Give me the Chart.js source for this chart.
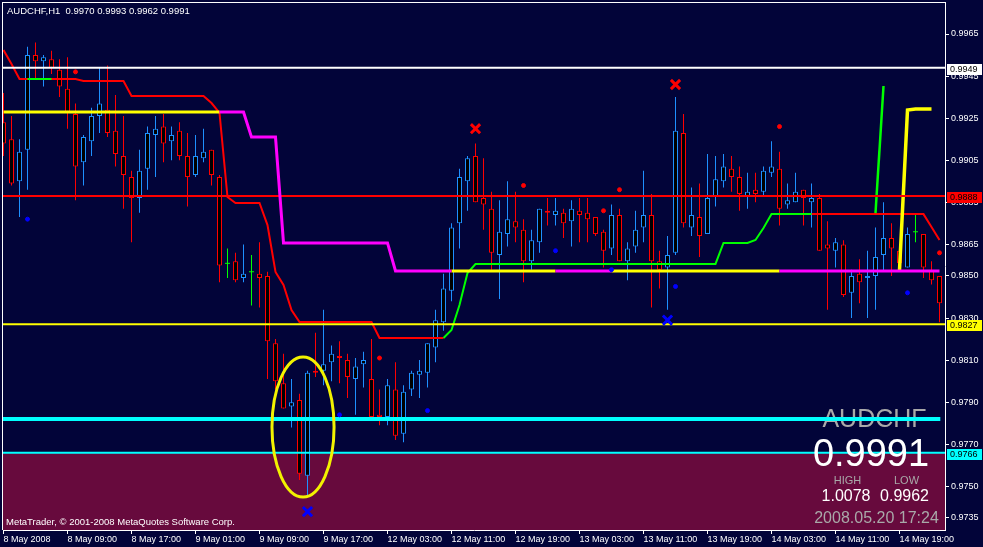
<!DOCTYPE html>
<html>
<head>
<meta charset="utf-8">
<script src="https://cdn.jsdelivr.net/npm/chart.js@4.4.1/dist/chart.umd.min.js"></script>
<style>
html,body{margin:0;padding:0;background:#020439;overflow:hidden;}
#box{width:983px;height:547px;}
canvas{display:block;}
</style>
</head>
<body>
<div id="box"><canvas id="chart" width="983" height="547"></canvas></div>
<script>
// ---------------- DATA ----------------
const xTickLabels = ['8 May 2008','8 May 09:00','8 May 17:00','9 May 01:00','9 May 09:00','9 May 17:00','12 May 03:00','12 May 11:00','12 May 19:00','13 May 03:00','13 May 11:00','13 May 19:00','14 May 03:00','14 May 11:00','14 May 19:00'];
const priceTicks = [0.9965,0.9945,0.9925,0.9905,0.9885,0.9865,0.9850,0.9830,0.9810,0.9790,0.9770,0.9750,0.9735];

const opens = [0.9923,0.9915,0.9895,0.9910,0.9955,0.9952,0.9953,0.9948,0.9939,0.9927,
0.9904,0.9914,0.9926,0.9929,0.9919,0.9907,0.9897,0.9887,0.9901,0.9917,
0.9921,0.9914,0.9919,0.9907,0.9898,0.9906,0.9910,0.9897,0.9856,0.9857,
0.9849,0.9852,0.9851,0.9850,0.9818,0.9799,0.9788,0.9791,0.9755,0.9805,
0.9805,0.9809,0.9812,0.9810,0.9801,0.9808,0.9801,0.9784,0.9783,0.9796,
0.9775,0.9796,0.9803,0.9804,0.9816,0.9828,0.9843,0.9875,0.9895,0.9907,
0.9887,0.9882,0.9860,0.9870,0.9876,0.9872,0.9857,0.9866,0.9881,0.9879,
0.9880,0.9876,0.9881,0.9880,0.9878,0.9871,0.9863,0.9879,0.9857,0.9864,
0.9873,0.9879,0.9857,0.9854,0.9861,0.9918,0.9873,0.9878,0.9870,0.9888,
0.9895,0.9901,0.9897,0.9888,0.9891,0.9890,0.9899,0.9901,0.9884,0.9885,
0.9891,0.9885,0.9887,0.9865,0.9862,0.9865,0.9842,0.9851,0.9849,0.9850,
0.9860,0.9868,0.9862,0.9854,0.9871,0.9870,0.9853,0.9850];

const highs = [0.9937,0.9926,0.9915,0.9959,0.9961,0.9955,0.9957,0.9953,0.9954,0.9932,
0.9917,0.9930,0.9949,0.9950,0.9936,0.9926,0.9900,0.9910,0.9921,0.9926,
0.9927,0.9921,0.9923,0.9918,0.9917,0.9920,0.9910,0.9898,0.9863,0.9861,
0.9865,0.9860,0.9866,0.9852,0.9820,0.9813,0.9801,0.9794,0.9805,0.9823,
0.9834,0.9817,0.9819,0.9813,0.9811,0.9814,0.9820,0.9796,0.9801,0.9809,
0.9798,0.9805,0.9810,0.9818,0.9834,0.9851,0.9875,0.9901,0.9907,0.9913,
0.9906,0.9890,0.9886,0.9895,0.9890,0.9877,0.9872,0.9882,0.9887,0.9887,
0.9882,0.9886,0.9887,0.9887,0.9878,0.9872,0.9884,0.9882,0.9866,0.9881,
0.9900,0.9889,0.9862,0.9869,0.9935,0.9927,0.9892,0.9894,0.9908,0.9907,
0.9908,0.9907,0.9902,0.9899,0.9899,0.9902,0.9914,0.9909,0.9894,0.9899,
0.9891,0.9894,0.9889,0.9876,0.9868,0.9867,0.9853,0.9858,0.9862,0.9873,
0.9885,0.9875,0.9864,0.9873,0.9879,0.9870,0.9857,0.9850];

const lows = [0.9907,0.9893,0.9878,0.9891,0.9944,0.9940,0.9946,0.9935,0.9920,0.9886,
0.9893,0.9907,0.9918,0.9916,0.9902,0.9882,0.9866,0.9880,0.9891,0.9897,
0.9904,0.9905,0.9905,0.9883,0.9897,0.9904,0.9893,0.9847,0.9849,0.9847,
0.9847,0.9836,0.9835,0.9801,0.9796,0.9787,0.9778,0.9753,0.9745,0.9802,
0.9798,0.9800,0.9799,0.9792,0.9784,0.9797,0.9783,0.9779,0.9779,0.9772,
0.9771,0.9793,0.9792,0.9797,0.9809,0.9824,0.9838,0.9863,0.9881,0.9885,
0.9872,0.9853,0.9839,0.9864,0.9866,0.9847,0.9853,0.9861,0.9874,0.9874,
0.9868,0.9864,0.9866,0.9866,0.9869,0.9854,0.9860,0.9857,0.9848,0.9861,
0.9866,0.9835,0.9844,0.9834,0.9860,0.9873,0.9869,0.9859,0.9870,0.9883,
0.9892,0.9890,0.9881,0.9882,0.9885,0.9888,0.9897,0.9874,0.9882,0.9885,
0.9874,0.9873,0.9862,0.9834,0.9854,0.9840,0.9830,0.9837,0.9830,0.9834,
0.9852,0.9850,0.9853,0.9854,0.9866,0.9849,0.9846,0.9828];

const closes = [0.9913,0.9894,0.9909,0.9955,0.9952,0.9954,0.9949,0.9940,0.9928,0.9902,
0.9916,0.9926,0.9932,0.9918,0.9908,0.9898,0.9887,0.9900,0.9918,0.9920,
0.9913,0.9917,0.9907,0.9897,0.9907,0.9909,0.9898,0.9855,0.9856,0.9848,
0.9851,0.9852,0.9849,0.9819,0.9800,0.9787,0.9790,0.9756,0.9804,0.9804,
0.9808,0.9813,0.9811,0.9802,0.9807,0.9810,0.9783,0.9783,0.9798,0.9774,
0.9795,0.9804,0.9805,0.9818,0.9829,0.9844,0.9873,0.9897,0.9906,0.9885,
0.9884,0.9861,0.9871,0.9877,0.9873,0.9857,0.9867,0.9882,0.9880,0.9881,
0.9875,0.9882,0.9879,0.9877,0.9870,0.9862,0.9879,0.9857,0.9863,0.9872,
0.9879,0.9857,0.9853,0.9860,0.9919,0.9875,0.9879,0.9869,0.9887,0.9896,
0.9902,0.9897,0.9889,0.9890,0.9889,0.9900,0.9902,0.9882,0.9886,0.9890,
0.9887,0.9887,0.9862,0.9863,0.9866,0.9841,0.9850,0.9847,0.9850,0.9859,
0.9868,0.9863,0.9856,0.9870,0.9871,0.9854,0.9848,0.9837];

// trailing-stop indicator (vertices: bar index -> value)
const trailBars = [0,1,2,3,6,9,10,15,16,25,26,27,28,29,32,33,34,35,36,37,46,47,55,56,57,58,59,89,90,93,94,95,96,101,115,116,117];
const trailVals = [0.99574,0.99507,0.99436,0.99436,0.99436,0.99436,0.99427,0.99427,0.99355,0.99355,0.99322,0.99275,0.98875,0.98847,0.98847,0.98742,0.98519,0.98457,0.98338,0.98281,0.98281,0.98205,0.98205,0.98243,0.98362,0.98514,0.98557,0.98557,0.98657,0.98657,0.98671,0.98728,0.98794,0.98794,0.98794,0.98733,0.98671];
const trailUpRanges = [[3,6],[55,101]];
const trailDownRanges = [[0,55],[101,117]];

// base line indicator (vertices)
const baseBars = [0,27,30,31,34,35,48,49,56,69,76,97,117];
const baseVals = [0.99279,0.99279,0.99279,0.99160,0.99160,0.98657,0.98657,0.98524,0.98524,0.98524,0.98524,0.98524,0.98524];
const baseYellowRanges = [[0,27],[56,69],[76,97]];
const baseMagentaRanges = [[27,56],[69,76],[97,117]];

// breakout lines on the right
const yellowRiseBars = [112,113,114,115,116];
const yellowRiseVals = [0.98528,0.99289,0.99294,0.99294,0.99294];
const greenRiseBars = [109,110];
const greenRiseVals = [0.98799,0.99403];

// signal markers
const redDotBars = [9,47,65,75,77,97,117];
const redDotVals = [0.9947,0.9811,0.9893,0.9881,0.9891,0.9921,0.9861];
const blueDotBars = [3,42,53,69,76,84,113];
const blueDotVals = [0.9877,0.9784,0.9786,0.9862,0.9853,0.9845,0.9842];
const redXBars = [59,84];
const redXVals = [0.9920,0.9941];
const blueXBars = [38,83];
const blueXVals = [0.9738,0.9829];

// horizontal levels
const levelValues = [0.9949,0.9888,0.9827,0.9782,0.9766];
const levelLabelShown = [true,true,true,false,true];

// highlight ellipse (bar / price units)
const ellipseCenterBar = 37.44, ellipseCenterPrice = 0.97782, ellipseBarRadius = 3.88, ellipsePriceRadius = 0.00333;

const titleText = 'AUDCHF,H1  0.9970 0.9993 0.9962 0.9991';
const copyrightText = 'MetaTrader, \u00a9 2001-2008 MetaQuotes Software Corp.';
const infoSymbol = 'AUDCHF', infoBid = '0.9991', infoHigh = '1.0078', infoLow = '0.9962', infoTime = '2008.05.20 17:24';

// ---------------- STYLE ----------------
const NAVY = '#020439', MAROON = '#670a3d';
const UP = '#1e90ff', DOWN = '#ff0000', DOJI = '#00ff00';
const GRAY = '#a9a9a9';
const levelColors = ['#ffffff','#ff0000','#ffff00','#00ffff','#00ffff'];
const levelWidths = [2,2,2,4,2];
const levelEnds = [118,118,118,117.1,118];
const FONT = '"Liberation Sans", Arial, sans-serif';

Chart.defaults.font.family = FONT;
Chart.defaults.font.size = 9;
Chart.defaults.color = '#ffffff';

const bars = opens.map((_, i) => i);
const colorFor = i => closes[i] > opens[i] ? UP : (closes[i] < opens[i] ? DOWN : DOJI);
const pts = (bx, vals) => bx.map((x, k) => ({x, y: vals[k]}));
function segments(bx, vals, ranges) {
  const out = [];
  ranges.forEach(([a, b]) => {
    bx.forEach((x, k) => { if (x >= a && x <= b) out.push({x, y: vals[k]}); });
    out.push({x: b + 0.5, y: null});
  });
  return out;
}
function lineDs(data, color, width, order) {
  return {type: 'line', data, borderColor: color, borderWidth: width, pointRadius: 0, pointHoverRadius: 0,
    fill: false, tension: 0, spanGaps: false, order, clip: 0, borderJoinStyle: 'miter'};
}
function markerDs(bx, vals, color, style, radius, bw, order) {
  return {type: 'line', data: pts(bx, vals), showLine: false, pointStyle: style, pointRadius: radius,
    pointHoverRadius: radius, pointBackgroundColor: color, pointBorderColor: color, pointBorderWidth: bw, order, clip: 0};
}

const datasets = [];
datasets.push({type: 'line', data: [{x: -1, y: levelValues[4]}, {x: 118, y: levelValues[4]}], fill: 'start',
  backgroundColor: MAROON, borderColor: 'rgba(0,0,0,0)', borderWidth: 1, pointRadius: 0, order: 40});
datasets.push({type: 'bar', data: bars.map(i => ({x: i, y: [lows[i], highs[i]]})), grouped: false,
  maxBarThickness: 1, barPercentage: 1, categoryPercentage: 1, inflateAmount: 0, borderWidth: 0,
  backgroundColor: ctx => colorFor(ctx.raw ? ctx.raw.x : 0), order: 31});
datasets.push({type: 'bar', data: bars.filter(i => opens[i] !== closes[i]).map(i => ({x: i, y: [opens[i], closes[i]]})),
  grouped: false, maxBarThickness: 5, barPercentage: 1, categoryPercentage: 1, inflateAmount: 0,
  borderWidth: 1, borderSkipped: false, backgroundColor: '#000000',
  borderColor: ctx => colorFor(ctx.raw ? ctx.raw.x : 0), order: 30});
datasets.push(markerDs(bars.filter(i => opens[i] === closes[i]), bars.filter(i => opens[i] === closes[i]).map(i => closes[i]), DOJI, 'line', 2.5, 1, 29));
datasets.push(lineDs(segments(trailBars, trailVals, trailDownRanges), '#ff0000', 2, 22));
datasets.push(lineDs(segments(trailBars, trailVals, trailUpRanges), '#00ff00', 2, 21));
datasets.push(lineDs(pts(greenRiseBars, greenRiseVals), '#00ff00', 2.5, 18));
datasets.push(lineDs(pts(yellowRiseBars, yellowRiseVals), '#ffff00', 3.5, 17));
levelValues.forEach((v, k) => datasets.push(lineDs([{x: -1, y: v}, {x: levelEnds[k], y: v}], levelColors[k], levelWidths[k], 12 - k)));
datasets.push(lineDs(segments(baseBars, baseVals, baseYellowRanges), '#ffff00', 3, 5));
datasets.push(lineDs(segments(baseBars, baseVals, baseMagentaRanges), '#ff00ff', 3, 4));
datasets.push(markerDs(redDotBars, redDotVals, DOWN, 'circle', 2, 1, 2));
datasets.push(markerDs(blueDotBars, blueDotVals, '#0000ff', 'circle', 2, 1, 2));
datasets.push(markerDs(redXBars, redXVals, DOWN, 'crossRot', 6.5, 3, 1));
datasets.push(markerDs(blueXBars, blueXVals, '#0000ff', 'crossRot', 6.5, 3, 1));

const mtPlugin = {
  id: 'mt',
  beforeDraw(chart) {
    const c = chart.ctx; c.save(); c.fillStyle = NAVY; c.fillRect(0, 0, chart.width, chart.height); c.restore();
  },
  beforeDatasetsDraw(chart) {
    const c = chart.ctx; c.save();
    c.textAlign = 'center'; c.textBaseline = 'alphabetic';
    c.fillStyle = GRAY; c.font = '25px ' + FONT; c.fillText(infoSymbol, 874.5, 427);
    c.restore();
  },
  afterDatasetsDraw(chart) {
    const c = chart.ctx, xs = chart.scales.x, ys = chart.scales.y;
    c.save();
    const cx = xs.getPixelForValue(ellipseCenterBar), cy = ys.getPixelForValue(ellipseCenterPrice);
    const rx = xs.getPixelForValue(ellipseCenterBar + ellipseBarRadius) - cx;
    const ry = cy - ys.getPixelForValue(ellipseCenterPrice + ellipsePriceRadius);
    c.beginPath(); c.ellipse(cx, cy, rx, ry, 0, 0, Math.PI * 2);
    c.strokeStyle = '#f2f200'; c.lineWidth = 3; c.stroke();
    const a = chart.chartArea;
    c.fillStyle = '#ffffff';
    c.fillRect(a.left - 1, a.top, a.right - a.left + 1, 1);
    c.fillRect(a.left - 1, a.top, 1, a.bottom - a.top);
    c.textBaseline = 'alphabetic';
    c.textAlign = 'left'; c.fillStyle = '#ffffff'; c.font = '9.5px ' + FONT;
    c.fillText(titleText, 7, 14);
    c.fillText(copyrightText, 6, 525);
    c.textAlign = 'center';
    c.fillStyle = '#ffffff'; c.font = '38px ' + FONT; c.fillText(infoBid, 871, 466);
    c.fillStyle = GRAY; c.font = '11px ' + FONT; c.fillText('HIGH', 847.5, 484); c.fillText('LOW', 906.5, 484);
    c.fillStyle = '#ffffff'; c.font = '16px ' + FONT; c.fillText(infoHigh, 846, 501); c.fillText(infoLow, 904.5, 501);
    c.fillStyle = GRAY; c.font = '16px ' + FONT; c.fillText(infoTime, 876.5, 523);
    c.restore();
  },
  afterDraw(chart) {
    const c = chart.ctx, ys = chart.scales.y, a = chart.chartArea;
    c.save();
    c.font = '9px ' + FONT; c.textAlign = 'left'; c.textBaseline = 'middle';
    levelValues.forEach((v, k) => {
      if (!levelLabelShown[k]) return;
      const y = Math.round(ys.getPixelForValue(v)) + 1;
      c.fillStyle = levelColors[k]; c.fillRect(a.right + 2, y - 5, 35, 11);
      c.fillStyle = '#000000'; c.fillText(v.toFixed(4), a.right + 5, y + 0.5);
    });
    c.restore();
  }
};

new Chart(document.getElementById('chart'), {
  type: 'bar',
  data: {datasets},
  options: {
    responsive: false, animation: false, devicePixelRatio: 1, events: [],
    layout: {autoPadding: false, padding: {left: 3, top: 2, right: 0, bottom: 0}},
    plugins: {legend: {display: false}, tooltip: {enabled: false}},
    scales: {
      x: {
        type: 'linear', min: -0.0625, max: 117.6875, offset: false, bounds: 'data',
        afterBuildTicks: s => { s.ticks = xTickLabels.map((_, k) => ({value: k * 8})); },
        afterFit: s => { s.height = 17; s.paddingLeft = 0; s.paddingRight = 0; },
        ticks: {color: '#ffffff', align: 'start', padding: 0, maxRotation: 0, minRotation: 0, autoSkip: false,
          font: {size: 9}, callback: v => xTickLabels[Math.round(v / 8)]},
        grid: {drawOnChartArea: false, drawTicks: true, tickLength: 4, color: '#ffffff', offset: false},
        border: {display: true, color: '#ffffff', width: 1}
      },
      y: {
        type: 'linear', position: 'right', min: 0.972926, max: 0.998021, beginAtZero: false, bounds: 'data',
        afterBuildTicks: s => { s.ticks = priceTicks.map(v => ({value: v})); },
        afterFit: s => { s.width = 38; s.paddingTop = 0; s.paddingBottom = 0; },
        ticks: {color: '#ffffff', padding: 2, autoSkip: false, font: {size: 9}, callback: v => Number(v).toFixed(4)},
        grid: {drawOnChartArea: false, drawTicks: true, tickLength: 4, color: '#ffffff', offset: false},
        border: {display: true, color: '#ffffff', width: 1}
      }
    }
  },
  plugins: [mtPlugin]
});
</script>
</body>
</html>
